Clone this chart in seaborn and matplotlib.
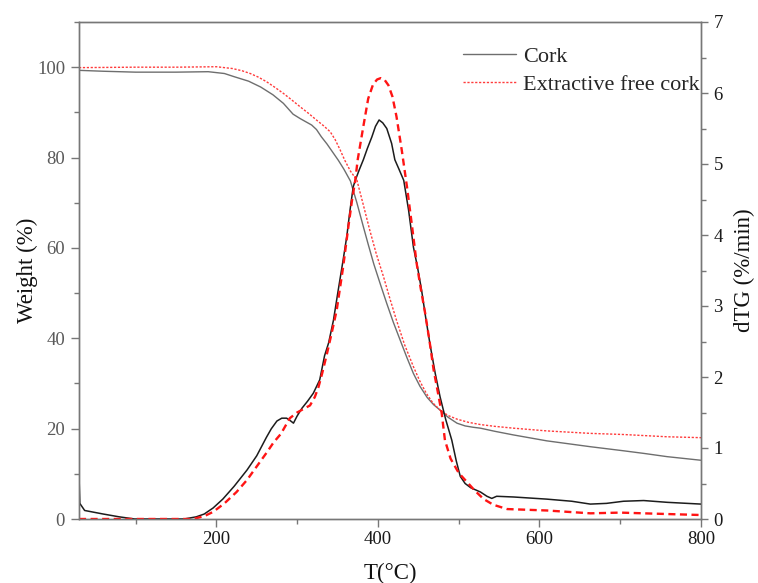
import numpy as np
import pandas as pd
import matplotlib
matplotlib.use("Agg")
import matplotlib.pyplot as plt
from matplotlib.ticker import MultipleLocator
import seaborn as sns

# ---- TG curves (weight %) ----
cork_tg_T = [30, 60, 100, 150, 190, 210, 222, 240, 255, 270, 283, 295, 304, 312, 318,
             324, 330, 337, 344, 351, 358, 366, 374, 382, 388, 395, 403, 411, 419, 428,
             436, 444, 452, 461, 469, 477, 487, 498, 508, 518, 527, 545, 568, 609, 663,
             704, 730, 758, 800]
cork_tg_W = [99.3, 99.1, 98.9, 98.9, 99.0, 98.6, 97.9, 96.9, 95.6, 93.9, 92.0, 89.6, 88.6, 87.8, 87.2,
             86.2, 84.6, 83.0, 81.2, 79.4, 77.4, 74.8, 70.0, 64.7, 60.8, 56.4, 52.0, 47.7, 43.6, 39.4,
             35.7, 32.2, 29.4, 26.9, 25.3, 24.1, 22.5, 21.2, 20.6, 20.3, 20.1, 19.4, 18.6, 17.3, 16.0,
             15.1, 14.5, 13.8, 13.0]

efc_tg_T = [30, 100, 150, 200, 220, 232, 242, 252, 262, 272, 283, 293, 304, 314, 324,
            333, 341, 347, 353, 359, 366, 374, 382, 390, 398, 407, 415, 423, 433, 444,
            452, 460, 468, 477, 487, 498, 512, 527, 545, 568, 609, 663, 704, 758, 800]
efc_tg_W = [99.9, 100.0, 100.0, 100.1, 99.7, 99.2, 98.6, 97.8, 96.8, 95.6, 94.2, 92.8, 91.2, 89.8, 88.3,
            87.0, 85.7, 84.0, 81.8, 79.4, 77.0, 75.0, 69.5, 63.9, 58.7, 53.6, 48.7, 44.0, 38.6, 33.7,
            30.5, 27.8, 25.7, 24.1, 22.9, 22.1, 21.4, 20.9, 20.5, 20.1, 19.5, 18.95, 18.7, 18.2, 18.0]

# ---- dTG curves (%/min) ----
cork_dtg_T = [30, 31, 37, 60, 80, 99, 160, 175, 185, 196, 208, 222, 238, 250, 256, 262,
              268, 275, 281, 287, 291, 295.5, 300, 306, 313, 320, 328, 334, 339, 345,
              351, 357, 361.5, 365.5, 369.5, 372, 377, 382, 387, 392.5, 397, 401.5, 406,
              411, 417, 421, 426, 432, 438, 444, 449, 454, 459, 465, 471, 477, 484,
              491.5, 497, 502, 508, 515, 527, 535, 541, 547, 568, 609, 640, 663, 683,
              704, 729, 758, 800]
cork_dtg_D = [0.62, 0.22, 0.12, 0.07, 0.03, 0.0, 0.0, 0.03, 0.07, 0.155, 0.28, 0.46, 0.69, 0.89, 1.02, 1.15,
              1.27, 1.38, 1.42, 1.42, 1.39, 1.35, 1.45, 1.56, 1.66, 1.77, 1.96, 2.30, 2.48, 2.80,
              3.23, 3.65, 3.98, 4.35, 4.68, 4.77, 4.92, 5.06, 5.22, 5.38, 5.53, 5.62, 5.58,
              5.50, 5.29, 5.06, 4.93, 4.77, 4.35, 3.83, 3.55, 3.23, 2.85, 2.43, 2.05, 1.72, 1.40,
              1.11, 0.82, 0.60, 0.50, 0.44, 0.38, 0.32, 0.29, 0.32, 0.31, 0.28, 0.25, 0.21, 0.22,
              0.25, 0.26, 0.235, 0.21]

efc_dtg_T = [30, 100, 171, 185, 196, 210, 225, 238, 250, 262, 271, 280, 291, 300, 308,
             316, 322, 326.5, 331, 337, 343, 349, 357, 363.5, 368, 372, 375, 382, 388, 394,
             399, 403.6, 408, 413, 418, 423, 429.5, 436, 442, 448, 453, 458.5, 464, 469, 474, 479,
             483, 490, 500, 508, 520, 531, 543, 560, 609, 663, 700, 758, 800]
efc_dtg_D = [0.0, 0.0, 0.0, 0.04, 0.10, 0.22, 0.38, 0.55, 0.74, 0.93, 1.08, 1.20, 1.42, 1.50, 1.55,
             1.60, 1.72, 1.86, 2.05, 2.33, 2.63, 2.94, 3.55, 4.12, 4.49, 4.77, 5.06, 5.53, 5.92, 6.12,
             6.19, 6.21, 6.19, 6.11, 5.95, 5.67, 5.20, 4.68, 4.15, 3.60, 3.25, 2.90, 2.50, 2.10, 1.80, 1.49,
             1.11, 0.85, 0.65, 0.55, 0.40, 0.28, 0.20, 0.14, 0.12, 0.08, 0.09, 0.07, 0.056]

series_labels = ["Cork", "Extractive free cork"]
x_ticks = [200, 400, 600, 800]

sns.set_style("ticks")
plt.rcParams["font.family"] = ["Liberation Serif", "DejaVu Serif"]
plt.rcParams["mathtext.fontset"] = "dejavuserif"

fig = plt.figure(figsize=(7.58, 5.83), dpi=100)
ax = fig.add_axes([79 / 758, 1 - 519 / 583, (701 - 79) / 758, (519 - 22) / 583])
ax2 = ax.twinx()

tg_cork = pd.DataFrame({"T": cork_tg_T, "W": cork_tg_W})
tg_efc = pd.DataFrame({"T": efc_tg_T, "W": efc_tg_W})
dtg_cork = pd.DataFrame({"T": cork_dtg_T, "D": cork_dtg_D})
dtg_efc = pd.DataFrame({"T": efc_dtg_T, "D": efc_dtg_D})

# weight loss (left axis)
sns.lineplot(data=tg_cork, x="T", y="W", ax=ax, color="#6e6e6e", lw=1.0,
             estimator=None, sort=False, legend=False)
sns.lineplot(data=tg_efc, x="T", y="W", ax=ax, color="#ff3b3b", lw=1.0,
             estimator=None, sort=False, legend=False, linestyle=(0, (1.6, 1.2)))

# derivative curves (right axis)
sns.lineplot(data=dtg_cork, x="T", y="D", ax=ax2, color="#1c1c1c", lw=1.1,
             estimator=None, sort=False, legend=False)
sns.lineplot(data=dtg_efc, x="T", y="D", ax=ax2, color="#ff1414", lw=1.7,
             estimator=None, sort=False, legend=False, linestyle=(0, (3.0, 1.9)))

ax.set_xlim(30, 800)
ax.set_ylim(0, 110)
ax2.set_ylim(0, 7)

ax.set_xticks(x_ticks)
ax.xaxis.set_minor_locator(MultipleLocator(100))
ax.yaxis.set_major_locator(MultipleLocator(20))
ax.yaxis.set_minor_locator(MultipleLocator(10))
ax2.yaxis.set_major_locator(MultipleLocator(1))
ax2.yaxis.set_minor_locator(MultipleLocator(0.5))

spine_col = "#777777"
for a in (ax, ax2):
    for s in a.spines.values():
        s.set_color(spine_col)
        s.set_linewidth(1.0)
        s.set_visible(True)

ax.tick_params(axis="x", which="major", direction="out", length=6, width=1,
               color=spine_col, labelsize=13.5, labelcolor="#1a1a1a", pad=3, top=False)
ax.tick_params(axis="x", which="minor", direction="out", length=3.5, width=1,
               color=spine_col, top=False)
ax.tick_params(axis="y", which="major", direction="out", length=6, width=1,
               color=spine_col, labelsize=13.5, labelcolor="#5a5a5a", pad=4)
ax.tick_params(axis="y", which="minor", direction="out", length=3.5, width=1,
               color=spine_col)
ax2.tick_params(axis="y", which="major", direction="out", length=5, width=1,
                color=spine_col, labelsize=13.5, labelcolor="#1a1a1a", pad=4)
ax2.tick_params(axis="y", which="minor", direction="out", length=3.5, width=1,
                color=spine_col)

ax.set_xlabel("T(°C)", fontsize=16.5, color="#111111")
ax.set_ylabel("Weight (%)", fontsize=16.5, color="#111111")
ax2.set_ylabel("dTG (%/min)", fontsize=16.5, color="#111111")
ax.xaxis.set_label_coords(0.5, -0.109)
ax.yaxis.set_label_coords(-0.083, 0.5)
ax2.yaxis.set_label_coords(1.07, 0.5)
ax.yaxis.label.set_verticalalignment("center")
ax2.yaxis.label.set_verticalalignment("center")
ax.xaxis.label.set_verticalalignment("center")

handles = [ax.lines[0], ax.lines[1]]
ax.legend(handles, series_labels, loc="upper left",
          bbox_to_anchor=(463 / 758, 1 - 46 / 583), bbox_transform=fig.transFigure,
          frameon=False, fontsize=16, handlelength=2.4, handletextpad=0.3,
          labelspacing=0.35, borderpad=0, borderaxespad=0)

fig.savefig("out.png", dpi=100)
